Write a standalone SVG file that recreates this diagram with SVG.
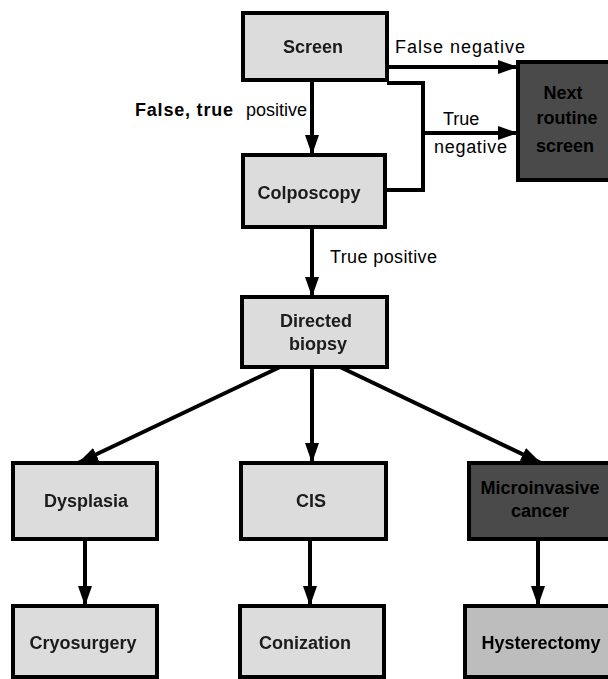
<svg xmlns="http://www.w3.org/2000/svg" width="608" height="679" viewBox="0 0 608 679">
<defs>
<marker id="ah" markerUnits="userSpaceOnUse" markerWidth="20" markerHeight="14" refX="20" refY="7" orient="auto">
<path d="M0,0 L20,7 L0,14 z" fill="#000"/>
</marker>
<filter id="soft" x="-5%" y="-20%" width="110%" height="140%"><feGaussianBlur stdDeviation="0.5"/></filter>
</defs>
<style>
.box{fill:#dcdcdc;stroke:#000;stroke-width:4}
.mid{fill:#bdbdbd;stroke:#000;stroke-width:4}
.dark{fill:#4a4a4a;stroke:#000;stroke-width:4}
.bt{font-family:"Liberation Sans",Arial,sans-serif;font-weight:bold;font-size:18px;fill:#1a1a1a;text-anchor:middle}
.dt{font-family:"Liberation Sans",Arial,sans-serif;font-weight:bold;font-size:18px;fill:#000;text-anchor:middle}
.lbl{font-family:"Liberation Sans",Arial,sans-serif;font-size:18px;fill:#000}
.conn{fill:none;stroke:#000;stroke-width:4}
</style>
<rect width="608" height="679" fill="#fff"/>
<g id="connectors">
<path class="conn" d="M312,80 V155" marker-end="url(#ah)"/>
<path class="conn" d="M387,67 H518" marker-end="url(#ah)"/>
<path class="conn" d="M387,83 H423 V190 H385"/>
<path class="conn" d="M423,133 H518" marker-end="url(#ah)"/>
<path class="conn" d="M312,227 V297" marker-end="url(#ah)"/>
<path class="conn" d="M280,367 L78,463" marker-end="url(#ah)"/>
<path class="conn" d="M312,367 V463" marker-end="url(#ah)"/>
<path class="conn" d="M340,367 L541,463" marker-end="url(#ah)"/>
<path class="conn" d="M85,539 V606" marker-end="url(#ah)"/>
<path class="conn" d="M310,539 V606" marker-end="url(#ah)"/>
<path class="conn" d="M538,539 V606" marker-end="url(#ah)"/>
</g>
<g id="labels">
<text class="lbl" x="395" y="53" textLength="130" lengthAdjust="spacing">False negative</text>
<text class="lbl" x="443" y="125">True</text>
<text class="lbl" x="434" y="153" textLength="73" lengthAdjust="spacing">negative</text>
<text class="lbl" x="330" y="263" textLength="107" lengthAdjust="spacing">True positive</text>
<text class="lbl" x="135" y="116" font-size="14" font-weight="bold" textLength="98" lengthAdjust="spacing">False, true</text>
<text class="lbl" x="246" y="116" font-size="17">positive</text>
</g>
<g id="screen">
<rect class="box" x="243" y="13" width="144" height="67"/>
<text class="bt" x="313" y="53" filter="url(#soft)">Screen</text>
</g>
<g id="next-screen">
<rect class="dark" x="518" y="62" width="96" height="118"/>
<text class="dt" x="563" y="99">Next</text>
<text class="dt" x="567" y="124">routine</text>
<text class="dt" x="565" y="152">screen</text>
</g>
<g id="colposcopy">
<rect class="box" x="243" y="155" width="142" height="72"/>
<text class="bt" x="309" y="199" filter="url(#soft)">Colposcopy</text>
</g>
<g id="directed-biopsy">
<rect class="box" x="242" y="297" width="145" height="70"/>
<text class="bt" x="316" y="327" filter="url(#soft)">Directed</text>
<text class="bt" x="318" y="350" filter="url(#soft)">biopsy</text>
</g>
<g id="dysplasia">
<rect class="box" x="13" y="463" width="144" height="76"/>
<text class="bt" x="86" y="507" filter="url(#soft)">Dysplasia</text>
</g>
<g id="cis">
<rect class="box" x="241" y="463" width="145" height="76"/>
<text class="bt" x="311" y="507" filter="url(#soft)">CIS</text>
</g>
<g id="microinvasive">
<rect class="dark" x="469" y="463" width="145" height="76"/>
<text class="dt" x="540" y="494">Microinvasive</text>
<text class="dt" x="540" y="517">cancer</text>
</g>
<g id="cryosurgery">
<rect class="box" x="13" y="606" width="144" height="71"/>
<text class="bt" x="83" y="649" filter="url(#soft)">Cryosurgery</text>
</g>
<g id="conization">
<rect class="box" x="240" y="606" width="144" height="71"/>
<text class="bt" x="305" y="649" filter="url(#soft)">Conization</text>
</g>
<g id="hysterectomy">
<rect class="mid" x="465" y="606" width="145" height="71"/>
<text class="dt" x="541" y="649" filter="url(#soft)">Hysterectomy</text>
</g>
</svg>
